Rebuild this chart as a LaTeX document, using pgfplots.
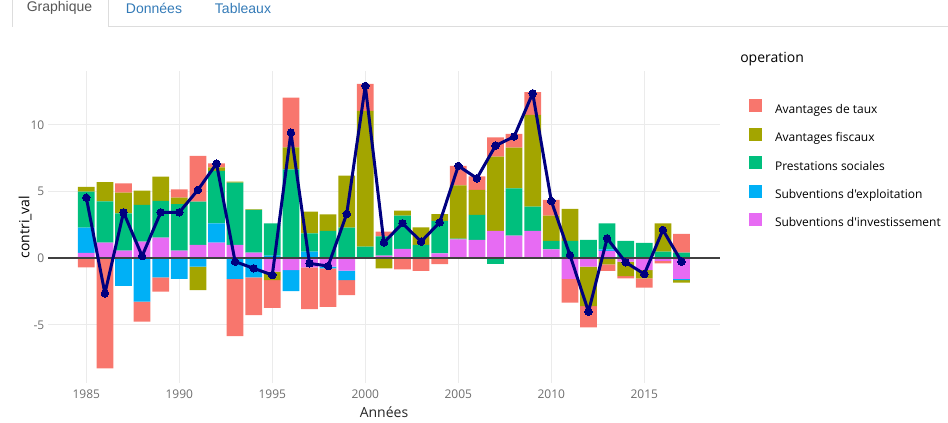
\documentclass[border=0pt]{standalone}
\usepackage{fontspec}
\setmainfont{Open Sans}[Ligatures=TeXOff]
\newfontfamily\tabfont{Liberation Sans}
\usepackage{pgfplots}
\usepackage{pgfplotstable}
\pgfplotsset{compat=1.18}

\definecolor{cTaux}{HTML}{F8766D}
\definecolor{cFisc}{HTML}{A3A500}
\definecolor{cPrest}{HTML}{00BF7D}
\definecolor{cExpl}{HTML}{00B0F6}
\definecolor{cInv}{HTML}{E76BF3}
\definecolor{cLine}{HTML}{000080}
\definecolor{gridc}{HTML}{EBEBEB}
\definecolor{tickc}{HTML}{6E6E6E}
\definecolor{zeroc}{HTML}{404040}
\definecolor{tabblue}{HTML}{337AB7}
\definecolor{tabgrey}{HTML}{555555}
\definecolor{tabline}{HTML}{DDDDDD}

% positive parts
\pgfplotstableread{
year taux fisc prest expl inv
1985 0    0.35 2.7  1.9  0.4
1986 0    1.45 3.1  0    1.17
1987 0.7  1.55 2.8  0    0.57
1988 0    1.07 2.75 0    1.25
1989 0    1.83 2.75 0    1.55
1990 0.63 0.48 3.5  0    0.57
1991 3.43 0    3.25 0    1.0
1992 0.3  0.28 3.93 1.45 1.17
1993 0    0.08 4.68 0    1.0
1994 0    0.05 3.2  0    0.43
1995 0    0    2.43 0.2  0
1996 3.73 1.65 6.68 0    0
1997 0    1.63 1.38 0.5  0
1998 0    1.25 2.0  0.05 0
1999 0    3.9  2.3  0    0
2000 2.03 10.18 0.88 0   0
2001 0.35 0    1.45 0    0.2
2002 0    0.38 2.5  0    0.7
2003 0    1.33 1.0  0    0
2004 0    0.5  2.43 0    0.38
2005 1.45 4.0  0.05 0    1.43
2006 1.0  1.88 1.88 0    1.38
2007 1.45 5.58 0    0    2.05
2008 1.03 3.05 3.55 0    1.7
2009 1.7  6.88 1.83 0    2.05
2010 1.18 1.9  0.63 0    0.68
2011 0    2.4  1.3  0    0
2012 0    0    1.38 0    0
2013 0    0    1.95 0.13 0.55
2014 0    0    1.3  0    0
2015 0    0    1.15 0    0
2016 0    2.13 0.5  0    0
2017 1.4  0    0.43 0    0
}\dataPos

% negative parts
\pgfplotstableread{
year taux fisc prest expl inv
1985 -0.68 0 0 0 0
1986 -8.25 0 0 0 0
1987 0 0 0 -2.07 0
1988 -1.5 0 0 -3.25 0
1989 -1.07 0 0 -1.43 0
1990 0 0 0 -1.55 0
1991 0 -1.75 0 -0.63 0
1992 0 0 0 0 0
1993 -4.28 0 0 -1.55 0
1994 -2.83 0 0 -1.43 0
1995 -2.08 -0.63 0 0 -1.0
1996 0 0 0 -1.58 -0.88
1997 -3.13 0 0 0 -0.68
1998 -2.9 0 0 -0.12 -0.63
1999 -1.13 0 0 -0.7 -0.93
2000 0 0 0 0 0
2001 0 -0.75 0 0 0
2002 -0.83 0 0 0 0
2003 -0.95 0 0 0 0
2004 -0.43 0 0 0 0
2005 0 0 0 0 0
2006 0 0 0 0 0
2007 0 0 -0.43 0 0
2008 0 0 0 0 0
2009 0 0 0 0 0
2010 0 0 0 0 0
2011 -1.78 0 0 0 -1.55
2012 -1.6 -2.95 0 0 -0.63
2013 -0.5 -0.45 0 0 0
2014 -0.18 -1.08 0 0 -0.25
2015 -0.68 -0.63 0 0 -0.88
2016 -0.18 0 0 0 -0.2
2017 0 -0.2 0 -0.08 -1.55
}\dataNeg

% totals
\pgfplotstableread{
year tot
1985 4.55
1986 -2.63
1987 3.45
1988 0.17
1989 3.45
1990 3.45
1991 5.13
1992 7.1
1993 -0.25
1994 -0.75
1995 -1.25
1996 9.43
1997 -0.38
1998 -0.58
1999 3.33
2000 12.93
2001 1.18
2002 2.63
2003 1.25
2004 2.7
2005 6.93
2006 6.0
2007 8.45
2008 9.13
2009 12.38
2010 4.3
2011 0.25
2012 -4.0
2013 1.5
2014 -0.3
2015 -1.18
2016 2.13
2017 -0.25
}\dataTot

\pgfplotsset{
  base/.style={
    at={(36pt,30pt)}, anchor=south west, scale only axis,
    width=504pt, height=234pt,
    xmin=1982.94, xmax=2019.07, ymin=-9.35, ymax=14.05,
  },
  swatch/.style={legend image code/.code={\fill[##1] (0pt,-1.675pt) rectangle (9.75pt,8.075pt);}},
}

\begin{document}
\begin{tikzpicture}
\path[use as bounding box] (0,0) rectangle (711pt,317.25pt);

% tabs
\draw[tabline, line width=0.75pt] (9pt,317.25pt) -- (9pt,297pt);
\draw[tabline, line width=0.75pt] (81pt,317.25pt) -- (81pt,297pt) -- (711pt,297pt);
\node[font=\tabfont\fontsize{10.5}{12}\selectfont, text=tabgrey] at (44.6pt,311pt) {Graphique};
\node[font=\tabfont\fontsize{10.5}{12}\selectfont, text=tabblue] at (115.5pt,311pt) {Données};
\node[font=\tabfont\fontsize{10.5}{12}\selectfont, text=tabblue] at (182.25pt,311pt) {Tableaux};

% legend title
\node[anchor=west, inner sep=0pt, font=\fontsize{10.5}{12}\selectfont] at (555pt,273pt) {operation};

% axis 1: grid, ticks, labels, positive stacks, legend
\begin{axis}[base, ybar stacked, bar width=0.9,
  axis line style={draw=none}, major tick length=0pt,
  xtick={1985,1990,...,2015}, ytick={-5,0,5,10},
  grid=major, grid style={draw=gridc, line width=0.75pt},
  /pgf/number format/assume math mode=true,
  scaled ticks=false,
  xticklabel style={font=\fontsize{9}{10}\selectfont, text=tickc, /pgf/number format/1000 sep={}, yshift=-1.5pt},
  yticklabel style={font=\fontsize{9}{10}\selectfont, text=tickc, xshift=0.75pt},
  xlabel={Années}, ylabel={contri\_val},
  every axis x label/.style={at={(axis description cs:0.5,-0.093)}, anchor=center, font=\fontsize{10.5}{12}\selectfont, text=black!85},
  every axis y label/.style={at={(axis description cs:-0.0342,0.5)}, rotate=90, anchor=center, font=\fontsize{10.5}{12}\selectfont, text=black},
  reverse legend, legend cell align=left,
  legend style={at={(axis description cs:1.0432,0.9087)}, anchor=north west,
    draw=none, fill=none, inner sep=0pt, outer sep=0pt,
    font=\fontsize{9}{10}\selectfont, row sep=9pt,
    nodes={inner sep=0pt, text height=6.5pt, text depth=2pt},
    /tikz/every odd column/.append style={column sep=9.75pt}},
]
\addplot[fill=cInv, draw=none, swatch] table[x=year,y=inv] {\dataPos};
\addplot[fill=cExpl, draw=none, swatch] table[x=year,y=expl] {\dataPos};
\addplot[fill=cPrest, draw=none, swatch] table[x=year,y=prest] {\dataPos};
\addplot[fill=cFisc, draw=none, swatch] table[x=year,y=fisc] {\dataPos};
\addplot[fill=cTaux, draw=none, swatch] table[x=year,y=taux] {\dataPos};
\legend{Subventions d'investissement, Subventions d'exploitation, Prestations sociales, Avantages fiscaux, Avantages de taux}
\end{axis}

% axis 2: negative stacks
\begin{axis}[base, ybar stacked, bar width=0.9, hide axis]
\addplot[fill=cInv, draw=none] table[x=year,y=inv] {\dataNeg};
\addplot[fill=cExpl, draw=none] table[x=year,y=expl] {\dataNeg};
\addplot[fill=cPrest, draw=none] table[x=year,y=prest] {\dataNeg};
\addplot[fill=cFisc, draw=none] table[x=year,y=fisc] {\dataNeg};
\addplot[fill=cTaux, draw=none] table[x=year,y=taux] {\dataNeg};
\end{axis}

% axis 3: zero line and total line
\begin{axis}[base, hide axis]
\addplot[draw=zeroc, line width=1.5pt] coordinates {(1982.94,0) (2019.07,0)};
\addplot[cLine, line width=2.25pt, line join=round, mark=*, mark size=2.8pt, mark options={fill=cLine, draw=cLine, line width=0pt}] table[x=year,y=tot] {\dataTot};
\end{axis}
\end{tikzpicture}
\end{document}
